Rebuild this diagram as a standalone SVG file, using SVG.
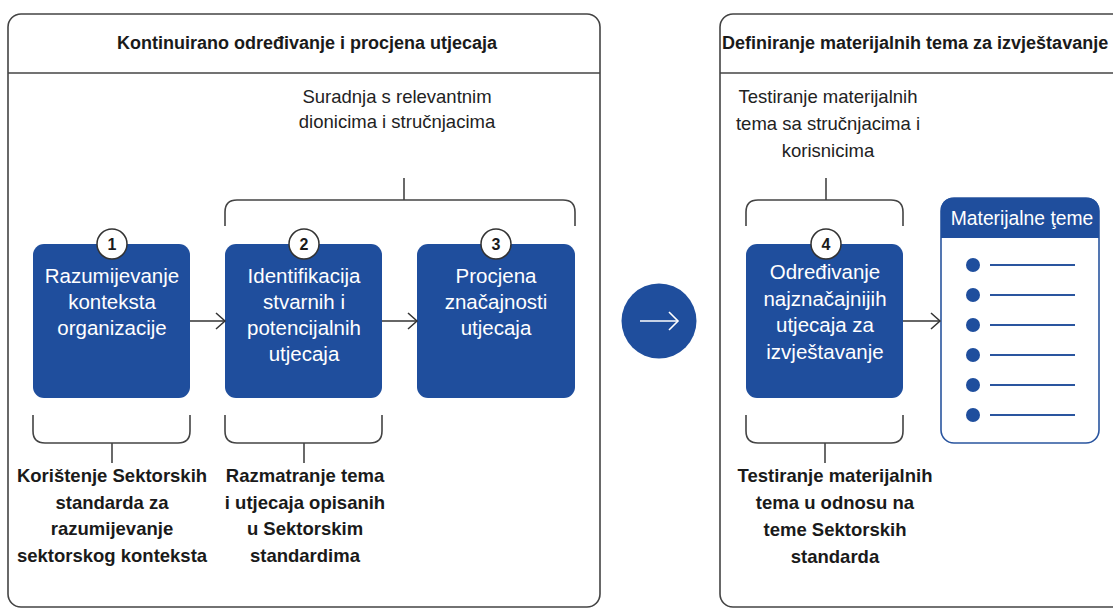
<svg xmlns="http://www.w3.org/2000/svg" width="1113" height="610" viewBox="0 0 1113 610">
<style>
.panel{fill:#fff;stroke:#444;stroke-width:1.6}
.hline{stroke:#444;stroke-width:1.6}
.box{fill:#1f4e9d}
.brace{fill:none;stroke:#444;stroke-width:1.6}
.conn{fill:none;stroke:#333;stroke-width:1.5}
.title{font-family:"Liberation Sans",Arial,sans-serif;font-weight:bold;font-size:18px;fill:#1a1a1a}
.t{font-family:"Liberation Sans",Arial,sans-serif;font-size:18.5px;fill:#222;text-anchor:middle}
.tb{font-family:"Liberation Sans",Arial,sans-serif;font-size:18.5px;font-weight:bold;fill:#1a1a1a;text-anchor:middle}
.bt{font-family:"Liberation Sans",Arial,sans-serif;font-size:20.5px;fill:#fff;text-anchor:middle}
.num{fill:#fff;stroke:#333;stroke-width:1.5}
.nt{font-family:"Liberation Sans",Arial,sans-serif;font-size:16px;font-weight:bold;fill:#1a1a1a;text-anchor:middle}
.bul{fill:#1f4e9d}
.bl{stroke:#2a559f;stroke-width:2}
</style>
<defs>
<marker id="ah" markerUnits="userSpaceOnUse" markerWidth="12" markerHeight="20" refX="10" refY="9" orient="auto">
<path d="M1,1 L10,9 L1,17" fill="none" stroke="#333" stroke-width="1.5"/>
</marker>
</defs>
<rect width="1113" height="610" fill="#fff"/>

<g id="panel-left">
<rect class="panel" x="8" y="14" width="592" height="593" rx="13"/>
<line class="hline" x1="8" y1="73" x2="600" y2="73"/>
<text class="title" x="307" y="49" text-anchor="middle">Kontinuirano određivanje i procjena utjecaja</text>
</g>

<g id="panel-right">
<rect class="panel" x="720" y="14" width="420" height="593" rx="13"/>
<line class="hline" x1="720" y1="73" x2="1113" y2="73"/>
<text class="title" x="722" y="49">Definiranje materijalnih tema za izvještavanje</text>
</g>

<g id="note-top-left">
<text class="t" x="397" y="103">Suradnja s relevantnim</text>
<text class="t" x="397" y="128">dionicima i stručnjacima</text>
</g>
<g id="note-top-right">
<text class="t" x="828" y="103">Testiranje materijalnih</text>
<text class="t" x="828" y="130">tema sa stručnjacima i</text>
<text class="t" x="828" y="157">korisnicima</text>
</g>

<g id="braces">
<path class="brace" d="M225,226 V212 Q225,200 237,200 H563 Q575,200 575,212 V226"/>
<line class="brace" x1="404" y1="178" x2="404" y2="200"/>
<path class="brace" d="M746,226 V212 Q746,200 758,200 H891 Q903,200 903,212 V226"/>
<line class="brace" x1="826" y1="178" x2="826" y2="200"/>
<path class="brace" d="M33,415 V431 Q33,443 45,443 H178 Q190,443 190,431 V415"/>
<line class="brace" x1="112" y1="443" x2="112" y2="463"/>
<path class="brace" d="M225,415 V431 Q225,443 237,443 H370 Q382,443 382,431 V415"/>
<line class="brace" x1="304" y1="443" x2="304" y2="463"/>
<path class="brace" d="M746,415 V431 Q746,443 758,443 H891 Q903,443 903,431 V415"/>
<line class="brace" x1="825" y1="443" x2="825" y2="463"/>
</g>

<g id="node-1">
<rect class="box" x="33" y="244" width="157" height="154" rx="11"/>
<circle class="num" cx="112" cy="244" r="15"/>
<text class="nt" x="112" y="250">1</text>
<text class="bt" x="112" y="283">Razumijevanje</text>
<text class="bt" x="112" y="309">konteksta</text>
<text class="bt" x="112" y="335">organizacije</text>
</g>

<g id="node-2">
<rect class="box" x="225" y="244" width="157" height="154" rx="11"/>
<circle class="num" cx="304" cy="244" r="15"/>
<text class="nt" x="304" y="250">2</text>
<text class="bt" x="304" y="283">Identifikacija</text>
<text class="bt" x="304" y="309">stvarnih i</text>
<text class="bt" x="304" y="335">potencijalnih</text>
<text class="bt" x="304" y="361">utjecaja</text>
</g>

<g id="node-3">
<rect class="box" x="417" y="244" width="158" height="154" rx="11"/>
<circle class="num" cx="496" cy="244" r="15"/>
<text class="nt" x="496" y="250">3</text>
<text class="bt" x="496" y="283">Procjena</text>
<text class="bt" x="496" y="309">značajnosti</text>
<text class="bt" x="496" y="335">utjecaja</text>
</g>

<g id="node-4">
<rect class="box" x="746" y="244" width="157" height="154" rx="11"/>
<circle class="num" cx="826" cy="244" r="15"/>
<text class="nt" x="826" y="250">4</text>
<text class="bt" x="825" y="279">Određivanje</text>
<text class="bt" x="825" y="306">najznačajnijih</text>
<text class="bt" x="825" y="332">utjecaja za</text>
<text class="bt" x="825" y="359">izvještavanje</text>
</g>

<g id="node-themes">
<rect x="941" y="198" width="158" height="245" rx="13" fill="#fff" stroke="#2a559f" stroke-width="1.6"/>
<path d="M941,238 V211 Q941,198 954,198 H1086 Q1099,198 1099,211 V238 Z" fill="#1f4e9d"/>
<text class="bt" x="1022" y="225" style="font-size:19.3px">Materijalne ţeme</text>
<circle class="bul" cx="973" cy="265" r="7"/><line class="bl" x1="990" y1="265" x2="1075" y2="265"/>
<circle class="bul" cx="973" cy="295" r="7"/><line class="bl" x1="990" y1="295" x2="1075" y2="295"/>
<circle class="bul" cx="973" cy="325" r="7"/><line class="bl" x1="990" y1="325" x2="1075" y2="325"/>
<circle class="bul" cx="973" cy="355" r="7"/><line class="bl" x1="990" y1="355" x2="1075" y2="355"/>
<circle class="bul" cx="973" cy="385" r="7"/><line class="bl" x1="990" y1="385" x2="1075" y2="385"/>
<circle class="bul" cx="973" cy="415" r="7"/><line class="bl" x1="990" y1="415" x2="1075" y2="415"/>
</g>

<g id="node-bigarrow">
<circle cx="659" cy="321" r="37.5" fill="#1f4e9d"/>
<line x1="640" y1="321" x2="678" y2="321" stroke="#fff" stroke-width="1.6"/>
<path d="M669,312 L678,321 L669,330" fill="none" stroke="#fff" stroke-width="1.6"/>
</g>

<g id="note-bottom-1">
<text class="tb" x="112" y="482">Korištenje Sektorskih</text>
<text class="tb" x="112" y="509">standarda za</text>
<text class="tb" x="112" y="535">razumijevanje</text>
<text class="tb" x="112" y="562">sektorskog konteksta</text>
</g>
<g id="note-bottom-2">
<text class="tb" x="305" y="482">Razmatranje tema</text>
<text class="tb" x="305" y="509">i utjecaja opisanih</text>
<text class="tb" x="305" y="535">u Sektorskim</text>
<text class="tb" x="305" y="562">standardima</text>
</g>
<g id="note-bottom-4">
<text class="tb" x="835" y="482">Testiranje materijalnih</text>
<text class="tb" x="835" y="509">tema u odnosu na</text>
<text class="tb" x="835" y="536">teme Sektorskih</text>
<text class="tb" x="835" y="563">standarda</text>
</g>

<g id="connectors">
<line class="conn" x1="190" y1="321" x2="225" y2="321" marker-end="url(#ah)"/>
<line class="conn" x1="382" y1="321" x2="417" y2="321" marker-end="url(#ah)"/>
<line class="conn" x1="903" y1="321" x2="940" y2="321" marker-end="url(#ah)"/>
</g>
</svg>
